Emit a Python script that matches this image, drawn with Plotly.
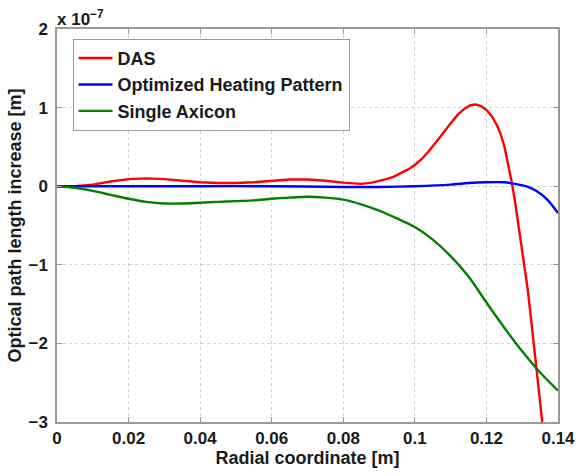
import plotly.graph_objects as go

# values in units of 1e-7 m
x_das = [0, 0.005, 0.01, 0.015, 0.02, 0.025, 0.03, 0.035, 0.04, 0.045, 0.05, 0.055, 0.06, 0.065, 0.07,
         0.075, 0.08, 0.085, 0.088, 0.090, 0.092, 0.094, 0.096, 0.098, 0.100, 0.102, 0.104, 0.106,
         0.108, 0.110, 0.112, 0.114, 0.1155, 0.117, 0.1185, 0.120, 0.1215, 0.123, 0.124, 0.125,
         0.126, 0.127, 0.128, 0.129, 0.130, 0.1315, 0.1325, 0.1335, 0.1345, 0.1356]
y_das = [0, 0.0, 0.02, 0.06, 0.09, 0.1, 0.09, 0.07, 0.05, 0.04, 0.04, 0.05, 0.07, 0.085, 0.085,
         0.07, 0.045, 0.03, 0.045, 0.065, 0.09, 0.12, 0.16, 0.21, 0.27, 0.35, 0.45, 0.56,
         0.68, 0.80, 0.91, 0.99, 1.03, 1.04, 1.02, 0.97, 0.89, 0.77, 0.66, 0.51,
         0.31, 0.07, -0.2, -0.5, -0.8, -1.3, -1.7, -2.1, -2.5, -3.0]

x_opt = [0, 0.01, 0.02, 0.04, 0.06, 0.08, 0.09, 0.1, 0.11, 0.115, 0.12, 0.125, 0.128, 0.131,
         0.134, 0.137, 0.14]
y_opt = [0, 0.0, 0.0, 0.0, 0.0, -0.01, -0.01, 0.0, 0.02, 0.04, 0.05, 0.05, 0.03, 0.0,
         -0.06, -0.17, -0.34]

x_axi = [0, 0.005, 0.01, 0.015, 0.02, 0.025, 0.03, 0.035, 0.04, 0.045, 0.05, 0.055, 0.06, 0.065,
         0.07, 0.075, 0.08, 0.085, 0.09, 0.095, 0.1, 0.105, 0.11, 0.115, 0.12, 0.125, 0.13, 0.135, 0.14]
y_axi = [0, -0.02, -0.06, -0.11, -0.16, -0.2, -0.22, -0.22, -0.21, -0.2, -0.19, -0.18, -0.16, -0.145,
         -0.135, -0.145, -0.17, -0.23, -0.31, -0.41, -0.52, -0.68, -0.89, -1.15, -1.48, -1.8, -2.1, -2.37, -2.6]

x_ticks = [0, 0.02, 0.04, 0.06, 0.08, 0.1, 0.12, 0.14]
x_labels = ["0", "0.02", "0.04", "0.06", "0.08", "0.1", "0.12", "0.14"]
y_ticks = [-3, -2, -1, 0, 1, 2]
y_labels = ["\u22123", "\u22122", "\u22121", "0", "1", "2"]

FONT = "Liberation Sans, Arial, sans-serif"
TXT = "#1a1a1a"

fig = go.Figure()
fig.add_trace(go.Scatter(x=x_das, y=y_das, mode="lines", name="<b>DAS</b>",
                         line=dict(color="#ff0000", width=2.4, shape="linear")))
fig.add_trace(go.Scatter(x=x_opt, y=y_opt, mode="lines", name="<b>Optimized Heating Pattern</b>",
                         line=dict(color="#0000ff", width=2.4, shape="spline", smoothing=0.8)))
fig.add_trace(go.Scatter(x=x_axi, y=y_axi, mode="lines", name="<b>Single Axicon</b>",
                         line=dict(color="#008000", width=2.4, shape="spline", smoothing=0.8)))

axis_common = dict(showline=True, linecolor="#999999", linewidth=1.5, mirror="ticks",
                   ticks="inside", ticklen=5, tickcolor="#999999", showgrid=True,
                   gridcolor="#d0d0d0", griddash="dot", gridwidth=1, zeroline=False,
                   tickfont=dict(family=FONT, size=17, color=TXT))

fig.update_xaxes(range=[0, 0.14], tickvals=x_ticks, ticktext=["<b>%s</b>" % t for t in x_labels],
                 title=dict(text="<b>Radial coordinate [m]</b>", font=dict(family=FONT, size=18, color=TXT),
                            standoff=0), **axis_common)
fig.update_yaxes(range=[-3, 2], tickvals=y_ticks, ticktext=["<b>%s</b>" % t for t in y_labels],
                 ticklabelstandoff=4,
                 title=dict(text="<b>Optical path length increase [m]</b>", font=dict(family=FONT, size=18, color=TXT),
                            standoff=2), **axis_common)

fig.add_annotation(xref="paper", yref="paper", x=0.0, y=1.0, xanchor="left", yanchor="bottom",
                   text="<b>x 10<sup>\u22127</sup></b>", showarrow=False, yshift=-2, xshift=-2,
                   font=dict(family=FONT, size=17, color=TXT))

fig.update_layout(
    width=587, height=476,
    margin=dict(l=57, r=22, t=29, b=54),
    paper_bgcolor="white", plot_bgcolor="white",
    showlegend=True,
    legend=dict(x=0.031, y=0.975, xanchor="left", yanchor="top",
                bgcolor="white", bordercolor="#999999", borderwidth=1,
                font=dict(family=FONT, size=18, color=TXT),
                itemwidth=34, tracegroupgap=0),
)

fig.write_html("out.html")
